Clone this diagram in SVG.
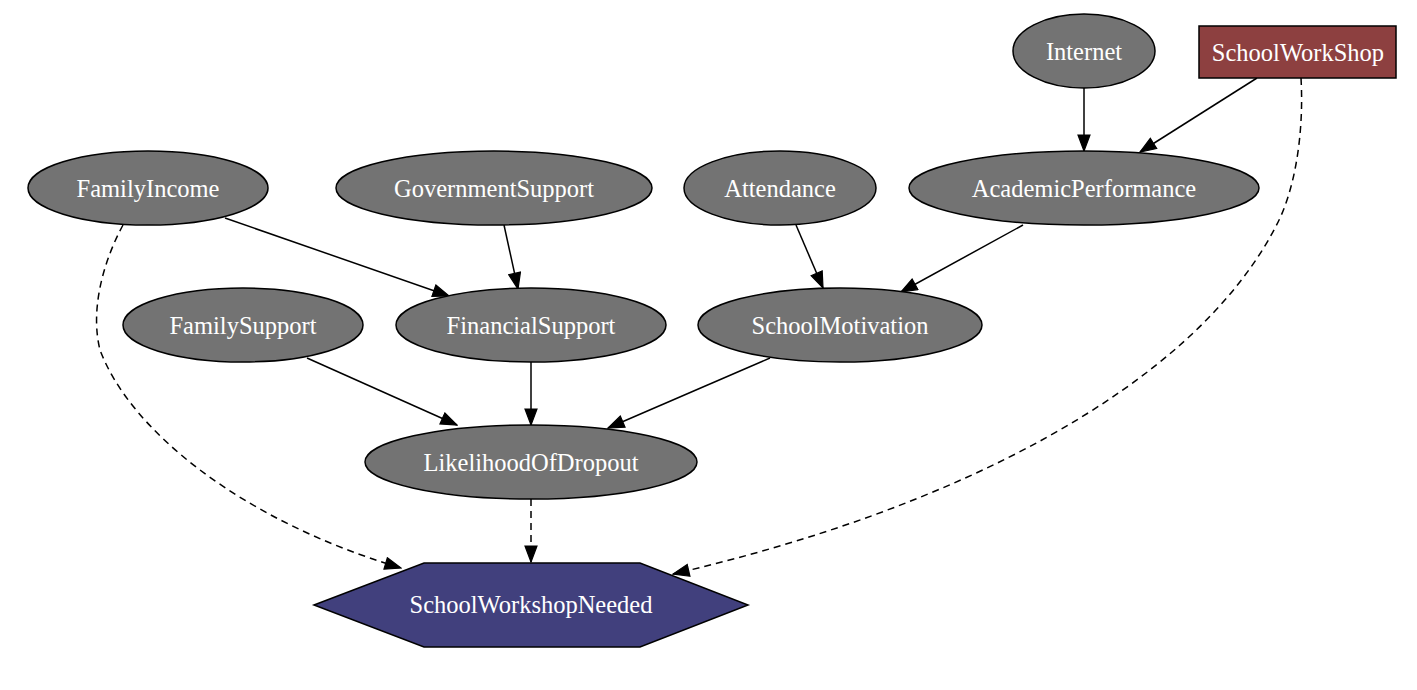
<svg xmlns="http://www.w3.org/2000/svg" width="1417" height="690" viewBox="0 0 1417 690">
<style>
.n ellipse{fill:#737373;stroke:#000;stroke-width:1.5}
text{font-family:"Liberation Serif","Times New Roman",serif;font-size:24.5px;fill:#fff;text-anchor:middle;dominant-baseline:central}
.e path{fill:none;stroke:#000;stroke-width:1.5}
.e .d{stroke-dasharray:7,5}
</style>
<defs>
<marker id="ah" markerUnits="userSpaceOnUse" markerWidth="18" markerHeight="14" viewBox="0 0 18 14" refX="17" refY="7" orient="auto">
<path d="M1,1 L17,7 L1,13 Z" fill="#000" stroke="#000" stroke-width="1.2"/>
</marker>
</defs>
<rect width="1417" height="690" fill="#fff"/>
<g class="e" id="edges">
<path d="M1084,88 L1084,151" marker-end="url(#ah)"/>
<path d="M1257,78 L1140,152" marker-end="url(#ah)"/>
<path class="d" d="M1301,78 C1304,130 1296,190 1275,228 C1190,390 950,510 673,574" marker-end="url(#ah)"/>
<path d="M225,218 L449,296" marker-end="url(#ah)"/>
<path d="M504,225 L518,289" marker-end="url(#ah)"/>
<path d="M796,225 L823,288" marker-end="url(#ah)"/>
<path d="M1023,225 L901,292" marker-end="url(#ah)"/>
<path d="M307,358 L457,425" marker-end="url(#ah)"/>
<path d="M531,362 L531,425" marker-end="url(#ah)"/>
<path d="M770,358 L608,428" marker-end="url(#ah)"/>
<path class="d" d="M123,225 C103,262 90,310 100,350 C130,430 240,520 401,568" marker-end="url(#ah)"/>
<path class="d" d="M531,499 L531,562" marker-end="url(#ah)"/>
</g>
<g class="n" id="Internet"><ellipse cx="1084" cy="51" rx="71" ry="37"/><text x="1084" y="51">Internet</text></g>
<g id="SchoolWorkShop"><rect x="1199" y="26" width="197" height="52" fill="#8d4040" stroke="#000" stroke-width="1.5"/><text x="1298" y="52">SchoolWorkShop</text></g>
<g class="n" id="FamilyIncome"><ellipse cx="148" cy="188" rx="120" ry="37"/><text x="148" y="188">FamilyIncome</text></g>
<g class="n" id="GovernmentSupport"><ellipse cx="494" cy="188" rx="158" ry="37"/><text x="494" y="188">GovernmentSupport</text></g>
<g class="n" id="Attendance"><ellipse cx="780" cy="188" rx="96" ry="37"/><text x="780" y="188">Attendance</text></g>
<g class="n" id="AcademicPerformance"><ellipse cx="1084" cy="188" rx="175" ry="37"/><text x="1084" y="188">AcademicPerformance</text></g>
<g class="n" id="FamilySupport"><ellipse cx="243" cy="325" rx="120" ry="37"/><text x="243" y="325">FamilySupport</text></g>
<g class="n" id="FinancialSupport"><ellipse cx="531" cy="325" rx="135" ry="37"/><text x="531" y="325">FinancialSupport</text></g>
<g class="n" id="SchoolMotivation"><ellipse cx="840" cy="325" rx="142" ry="37"/><text x="840" y="325">SchoolMotivation</text></g>
<g class="n" id="LikelihoodOfDropout"><ellipse cx="531" cy="462" rx="166" ry="37"/><text x="531" y="462">LikelihoodOfDropout</text></g>
<g id="SchoolWorkshopNeeded"><polygon points="314,605 424,563 640,563 748,605 640,647 424,647" fill="#41407d" stroke="#000" stroke-width="1.5"/><text x="531" y="604">SchoolWorkshopNeeded</text></g>
</svg>
